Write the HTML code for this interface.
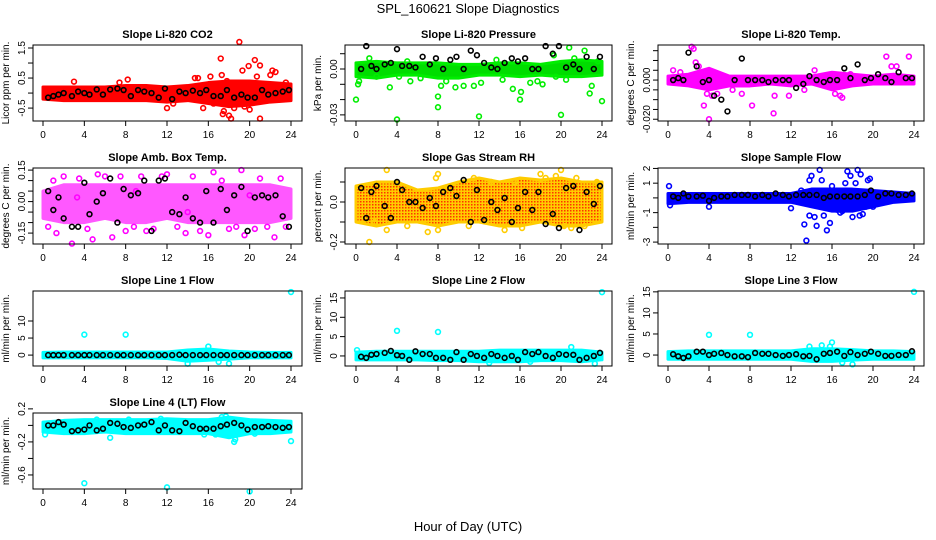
<!DOCTYPE html>
<html><head><meta charset="utf-8"><title>SPL_160621 Slope Diagnostics</title>
<style>
html,body{margin:0;padding:0;background:#fff;}
svg{display:block;font-family:"Liberation Sans",sans-serif;}
</style></head>
<body>
<svg id="chart" width="936" height="540" viewBox="0 0 936 540" xmlns="http://www.w3.org/2000/svg">
<defs>
<pattern id="rhpat" width="3" height="3" patternUnits="userSpaceOnUse"><rect width="3" height="3" fill="#ffcc00"/><rect width="1.5" height="1.5" fill="#ff3300"/></pattern>
</defs>
<text x="468" y="13" font-size="13" text-anchor="middle">SPL_160621  Slope Diagnostics</text>
<text x="468" y="531" font-size="13" text-anchor="middle">Hour of Day (UTC)</text>
</svg>
<script>
// shared x data
const bandHours=[0,2,4,6,8,10,12,14,16,18,20,22,24];
const blackHours=[0.5,1,1.5,2,2.8,3.4,4,4.5,5.2,5.8,6.5,7.2,7.8,8.5,9.2,9.8,10.5,11.2,11.8,12.5,13.2,13.8,14.5,15.2,15.8,16.5,17.2,17.8,18.5,19.2,19.8,20.5,21.2,21.8,22.5,23.2,23.8];
const xTicks=[0,4,8,12,16,20,24];
const xTickLabels=["0","4","8","12","16","20","24"];

// Panel 1: CO2
const co2Lo=[-0.2,-0.25,-0.25,-0.25,-0.25,-0.25,-0.3,-0.25,-0.35,-0.45,-0.4,-0.3,-0.25];
const co2Hi=[0.2,0.2,0.2,0.2,0.25,0.25,0.2,0.25,0.35,0.4,0.4,0.35,0.3];
const co2OutX=[14.7,15,15.5,16.2,17.2,17.3,17.5,17.4,18,18.2,19,19.3,19.9,20.5,21,21,20.7,20,19.5,22.2,22.5,22,12,23.5,17.8,18.5,16.5,12.6,7.4,8.2,3];
const co2OutY=[0.5,0.5,-0.5,0.55,1.15,0.6,-0.6,-0.7,-0.75,-0.85,1.7,0.75,0.9,1.1,0.92,-0.85,0.55,-0.55,-0.45,0.75,0.7,0.6,-0.5,0.35,0.4,-0.5,-0.35,-0.35,0.35,0.45,0.38];
const co2Black=[-0.15,-0.1,-0.05,0,-0.1,0.05,0,-0.05,0.12,-0.05,0.12,0.15,0.1,-0.1,0.1,0.05,0,-0.15,0.15,-0.2,0.05,0,0.08,0,0.1,-0.1,-0.1,0.1,-0.15,-0.05,-0.15,-0.15,0.1,-0.05,0,0.05,0.1];
const co2Ticks=[-0.5,0,0.5,1,1.5];
const co2TickLabels=["-0.5","","0.5","","1.5"];

// Panel 2: Pressure
const prLo=[-0.005,-0.006,-0.004,-0.004,-0.006,-0.006,-0.004,-0.004,-0.005,-0.004,-0.005,-0.005,-0.004];
const prHi=[0.004,0.005,0.004,0.004,0.004,0.003,0.003,0.004,0.004,0.003,0.005,0.006,0.005];
const prOutX=[0,0.2,0.3,1.3,2,3.3,4,4.2,5,5.3,6.3,8,8,8.3,8.8,9.7,10.5,11.5,12,12.2,13.7,14.3,15.3,16,16.1,17,17.7,18.2,19.3,19.5,20,20.5,20.8,21.3,22.3,22.8,23,23.6,24];
const prOutY=[-0.02,-0.01,-0.008,0.007,-0.005,-0.012,-0.033,-0.005,0.005,-0.008,-0.006,-0.018,-0.025,-0.011,-0.008,-0.012,-0.011,-0.011,-0.031,-0.009,0.006,-0.007,-0.013,-0.02,-0.015,-0.009,-0.008,-0.01,0.009,-0.005,-0.03,-0.007,0.014,0.007,0.012,-0.016,-0.011,0.005,-0.021];
const prBlack=[0,0.015,0.002,0,0.003,0.004,0.013,0.002,0.002,0.001,0.008,0.003,0.007,0,0.006,0.008,0,0.012,0.009,0.004,0.001,0,0.004,0.007,0.005,0.007,0,0,0.015,0.01,0.015,0.001,0.003,0,0.008,0,0.008];
const prTicks=[-0.03,-0.02,-0.01,0,0.01];
const prTickLabels=["-0.03","","","0.00",""];

// Panel 3: Li-820 Temp
const tLo=[-0.002,-0.003,-0.005,-0.003,-0.003,-0.002,-0.003,-0.002,-0.005,-0.003,-0.002,-0.002,-0.002];
const tHi=[0.002,0.003,0.006,0.002,0.002,0.002,0.002,0.002,0.004,0.003,0.002,0.003,0.002];
const tOutX=[0.5,1.2,2.3,2.5,2.7,3,3.5,3.8,4,4.3,4.8,6.3,7.2,8.2,10.3,10.4,11.8,13.3,14.3,16.3,16.8,17,17.8,21.3,21.8,22.3,23.5];
const tOutY=[0.005,0.004,0.017,0.016,0.009,0.007,-0.013,-0.007,-0.02,-0.008,-0.007,-0.005,-0.007,-0.013,-0.017,-0.008,-0.008,-0.005,0.005,-0.007,-0.008,-0.009,0.003,0.012,0.007,0.007,0.012];
const tBlack=[0,0.001,0,0.014,0.007,-0.001,0,-0.008,-0.01,-0.016,0,0.011,0,0,0,-0.001,0,0,0,-0.004,-0.002,0.002,0,-0.001,0,0,0.006,0.001,0.008,0,0.001,0.003,0.001,-0.001,0.004,0.001,0.001];
const tTicks=[-0.02,-0.015,-0.01,-0.005,0,0.005,0.01,0.015];
const tTickLabels=["-0.020","","","","0.000","","",""];

// Panel 4: Amb. Box Temp
const abLo=[-0.08,-0.1,-0.1,-0.08,-0.1,-0.1,-0.08,-0.1,-0.1,-0.1,-0.1,-0.1,-0.08];
const abHi=[0.05,0.08,0.08,0.08,0.08,0.08,0.08,0.08,0.08,0.08,0.08,0.08,0.06];
const abOutX=[0.5,1,1.3,2,2.8,3.5,4.3,4.8,5.3,6,6.7,7.5,8,8.8,9.5,10,10.7,11.5,12,13,13.8,14.5,15.2,16,16.5,17.3,18,18.7,19.2,19.5,20.5,21,21.7,22.4,23,23.5,3.3,9,14,20];
const abOutY=[-0.12,0.1,-0.15,0.12,-0.2,0.11,-0.13,-0.18,0.13,0.12,-0.17,0.12,-0.14,-0.12,0.12,-0.14,-0.13,0.12,0.13,-0.12,-0.15,0.12,-0.14,-0.16,0.14,0.1,-0.13,-0.12,0.15,-0.16,-0.13,0.11,-0.12,-0.17,0.11,-0.12,0.02,0.05,-0.05,0.03];
const abBlack=[0.05,-0.04,0.02,-0.08,-0.12,-0.12,0.09,-0.06,0,0.04,0.11,-0.1,0.06,0.03,0.04,0.1,-0.14,0.1,0.11,-0.05,-0.06,0.02,-0.08,-0.1,0.05,-0.1,0.06,-0.04,0.03,0.07,-0.14,0.02,0.03,0.02,0.03,-0.07,-0.12];
const abTicks=[-0.15,-0.1,-0.05,0,0.05,0.1,0.15];
const abTickLabels=["-0.15","","","0.00","","","0.15"];

// Panel 5: Gas Stream RH
const rhLo=[-0.1,-0.12,-0.1,-0.1,-0.12,-0.1,-0.1,-0.12,-0.12,-0.1,-0.12,-0.12,-0.1];
const rhHi=[0.08,0.1,0.1,0.06,0.07,0.1,0.12,0.1,0.12,0.11,0.12,0.1,0.1];
const rhOutX=[1.3,1.8,3,3,5,7,7.8,8,8,11,11.5,13.2,14.5,15.5,16.2,18,18.5,19.5,20,20.3,21,21.5,22.3,23.5];
const rhOutY=[-0.2,-0.1,0.16,-0.14,-0.12,-0.15,0.12,0.14,-0.14,-0.12,0.12,0.1,-0.14,0.1,-0.13,0.14,0.12,0.13,0.16,-0.12,-0.13,0.12,-0.12,0.1];
const rhBlack=[0.07,-0.08,0.05,0.08,-0.02,-0.08,0.1,0.06,0,0,-0.03,0.02,-0.02,0.05,0.07,0.03,0.11,-0.1,0.06,-0.09,0,-0.04,0.02,-0.1,-0.03,0.05,-0.04,0.05,-0.11,-0.06,-0.13,0.07,0.08,-0.14,0.05,-0.01,0.08];
const rhTicks=[-0.2,-0.1,0,0.1];
const rhTickLabels=["-0.2","","0.0",""];

// Panel 6: Sample Flow
const sfLo=[-0.4,-0.3,-0.3,-0.3,-0.3,-0.3,-0.3,-0.6,-0.9,-0.9,-0.6,-0.3,-0.2];
const sfHi=[0.3,0.3,0.3,0.3,0.3,0.3,0.3,0.6,0.6,0.6,0.5,0.4,0.3];
const sfOutX=[0.1,0.2,4,12,13.3,13.5,13.8,14,14.3,14.5,14.8,15,15.2,15.5,15.8,16,16.5,17.3,17.5,17.8,18,18.3,18.5,18.7,18.8,19,19.5,19.7,19.3,20,16.8,17,13,13.8];
const sfOutY=[0.8,-0.5,-0.6,-0.7,-1.8,-2.9,1.2,1.5,-1.3,-1.9,1.9,1.2,-1.2,-2.2,-1.7,0.8,-0.8,1,1.8,1.5,-1.3,1,1.9,-1.2,1.6,-1.1,1.2,1.3,-0.6,-0.6,-1,-0.9,0.5,-1.2];
const sfBlack=[0.1,0,0.3,0.1,0.1,0.15,-0.2,0,0.1,0.1,0.2,0.2,0.2,0.1,0.2,0.1,0.3,0.2,0.1,0.2,0.2,0.2,0.2,0,0.1,0.1,0.1,0.1,0.1,0.2,0.5,0.1,0.3,0.3,0.2,0.2,0.3];
const sfTicks=[-3,-2,-1,0,1,2];
const sfTickLabels=["-3","","-1","","1","2"];

// Panel 7: Line 1 Flow
const l1Lo=[-0.8,-0.8,-0.8,-0.8,-0.8,-0.8,-1,-1.8,-1.5,-1.2,-0.8,-0.8,-0.8];
const l1Hi=[0.8,0.9,0.9,0.9,0.9,0.9,0.9,1.5,1.8,1.2,0.9,0.8,0.8];
const l1OutX=[4,8,24,16,17,18,14];
const l1OutY=[6,6,18.5,2.5,-2,-2.5,-2.5];
const l1Black=[0,0,0,0,0,0,0,0,0,0,0,0,0,0,0,0,0,0,0,0,0.1,0,0,0,0,0,0,0,0,0,0,0,0,0,0,0,0];
const l1Ticks=[0,5,10];
const l1TickLabels=["0","5","10"];

// Panel 8: Line 2 Flow
const l2Lo=[-1,-1,-1,-1,-1.2,-1.2,-1.5,-1.5,-1.5,-1.2,-1.2,-1.5,-1];
const l2Hi=[1,1.2,1.2,1.2,1.2,1.2,1.2,1.5,1.5,1.5,1.5,1.5,1];
const l2OutX=[0.1,4,8,21,23.3,24,17,13];
const l2OutY=[1.5,6.5,6.2,2.3,-2,16.5,-1.5,-1.8];
const l2Black=[-0.2,-0.5,0.3,0.5,0.8,1.3,0.2,0,-1,1.2,0.5,0.5,-0.5,-0.5,-1,1,-1,0.5,0,-0.5,0.5,0,-0.5,0,-1,1,0.5,1,0,-0.5,0.5,0.3,0.3,-1,-0.5,0,0.8];
const l2Ticks=[0,5,10,15];
const l2TickLabels=["0","5","10","15"];

// Panel 9: Line 3 Flow
const l3Lo=[-1,-1,-1,-1,-1,-1,-1,-1.5,-1.5,-1.2,-1,-1,-1];
const l3Hi=[0.8,1,1,1,1,1,1,1.5,1.5,1.3,1,1,0.8];
const l3OutX=[4,8,13.8,15,15.8,16,17,18,24];
const l3OutY=[4.8,4.8,2,2.3,2,3,-1.8,-2.2,15];
const l3Black=[0.2,-0.3,-0.7,-0.3,0.8,0.8,0,0.3,0.5,0,-0.3,-0.3,-0.5,0.5,0.3,0.3,0,-0.2,0,0.2,-0.3,-0.2,-1,0.3,0.5,0.8,-0.2,0.7,0,0.3,0.8,0.3,-0.2,-0.2,0,0,0.9];
const l3Ticks=[0,5,10,15];
const l3TickLabels=["0","5","10","15"];

// Panel 10: Line 4 (LT) Flow
const l4Lo=[-0.08,-0.1,-0.1,-0.08,-0.1,-0.1,-0.1,-0.1,-0.1,-0.15,-0.1,-0.1,-0.08];
const l4Hi=[0.04,0.06,0.07,0.07,0.07,0.07,0.08,0.07,0.07,0.1,0.07,0.06,0.05];
const l4OutX=[0.2,4,5.2,6.5,8.3,11.4,12,15.6,16.7,17.3,17.7,18.5,18.6,20,20.5,24];
const l4OutY=[-0.11,-0.7,0.07,-0.15,0.07,0.08,-0.75,-0.11,-0.11,0.1,0.11,-0.2,-0.17,-0.8,-0.1,-0.19];
const l4Black=[0,0,0.04,0.01,-0.07,-0.06,-0.05,0,-0.06,-0.04,0.03,0.02,-0.02,-0.03,0,0.01,0.04,-0.06,0,-0.06,-0.07,0.03,-0.01,-0.04,-0.04,-0.04,-0.01,0.01,0.03,0,-0.05,-0.02,-0.02,-0.01,-0.02,-0.03,-0.02];
const l4Ticks=[-0.6,-0.4,-0.2,0,0.2];
const l4TickLabels=["-0.6","","-0.2","","0.2"];

const NS="http://www.w3.org/2000/svg";
const svg=document.getElementById('chart');
const cols=[{L:33,R:302,x0:43,x24:291},{L:345,R:612,x0:356,x24:602},{L:658,R:924,x0:668,x24:914}];
const rows=[{T:45,B:121},{T:168,B:244},{T:291,B:366},{T:413,B:489}];

const panels=[
 {id:'co2',title:'Slope Li-820 CO2',ylab:'Licor ppm per min.',c:0,r:0,ymin:-0.93,ymax:1.6,color:'#ff0000',fill:'#ff0000',op:1,lo:co2Lo,hi:co2Hi,ox:co2OutX,oy:co2OutY,bk:co2Black,ticks:co2Ticks,tl:co2TickLabels},
 {id:'pressure',title:'Slope Li-820 Pressure',ylab:'kPa per min.',c:1,r:0,ymin:-0.034,ymax:0.0157,color:'#00ee00',fill:'#00dd00',op:1,lo:prLo,hi:prHi,ox:prOutX,oy:prOutY,bk:prBlack,ticks:prTicks,tl:prTickLabels},
 {id:'li820-temp',title:'Slope Li-820 Temp.',ylab:'degrees C per min.',c:2,r:0,ymin:-0.0209,ymax:0.0179,color:'#ff00ff',fill:'#ff00ff',op:1,lo:tLo,hi:tHi,ox:tOutX,oy:tOutY,bk:tBlack,ticks:tTicks,tl:tTickLabels},
 {id:'amb-box-temp',title:'Slope Amb. Box Temp.',ylab:'degrees C per min.',c:0,r:1,ymin:-0.202,ymax:0.16,color:'#ff00ff',fill:'#ff00ff',op:0.65,lo:abLo,hi:abHi,ox:abOutX,oy:abOutY,bk:abBlack,ticks:abTicks,tl:abTickLabels},
 {id:'gas-stream-rh',title:'Slope Gas Stream RH',ylab:'percent per min.',c:1,r:1,ymin:-0.21,ymax:0.17,color:'#ffcc00',fill:'url(#rhpat)',op:1,lo:rhLo,hi:rhHi,ox:rhOutX,oy:rhOutY,bk:rhBlack,ticks:rhTicks,tl:rhTickLabels},
 {id:'sample-flow',title:'Slope Sample Flow',ylab:'ml/min per min.',c:2,r:1,ymin:-3.13,ymax:2.03,color:'#0000ff',fill:'#0000ff',op:1,lo:sfLo,hi:sfHi,ox:sfOutX,oy:sfOutY,bk:sfBlack,ticks:sfTicks,tl:sfTickLabels},
 {id:'line1-flow',title:'Slope Line 1 Flow',ylab:'ml/min per min.',c:0,r:2,ymin:-3.2,ymax:18.8,color:'#00ffff',fill:'#00ffff',op:1,lo:l1Lo,hi:l1Hi,ox:l1OutX,oy:l1OutY,bk:l1Black,ticks:l1Ticks,tl:l1TickLabels},
 {id:'line2-flow',title:'Slope Line 2 Flow',ylab:'ml/min per min.',c:1,r:2,ymin:-2.6,ymax:16.8,color:'#00ffff',fill:'#00ffff',op:1,lo:l2Lo,hi:l2Hi,ox:l2OutX,oy:l2OutY,bk:l2Black,ticks:l2Ticks,tl:l2TickLabels},
 {id:'line3-flow',title:'Slope Line 3 Flow',ylab:'ml/min per min.',c:2,r:2,ymin:-2.6,ymax:15.2,color:'#00ffff',fill:'#00ffff',op:1,lo:l3Lo,hi:l3Hi,ox:l3OutX,oy:l3OutY,bk:l3Black,ticks:l3Ticks,tl:l3TickLabels},
 {id:'line4-flow',title:'Slope Line 4 (LT) Flow',ylab:'ml/min per min.',c:0,r:3,ymin:-0.77,ymax:0.15,color:'#00ffff',fill:'#00ffff',op:1,lo:l4Lo,hi:l4Hi,ox:l4OutX,oy:l4OutY,bk:l4Black,ticks:l4Ticks,tl:l4TickLabels}
];

function mk(tag,attrs,parent){const e=document.createElementNS(NS,tag);for(const k in attrs)e.setAttribute(k,attrs[k]);parent.appendChild(e);return e;}

panels.forEach(p=>{
  const col=cols[p.c],row=rows[p.r];
  const xs=h=>col.x0+(col.x24-col.x0)*h/24;
  const ys=v=>row.B-(v-p.ymin)/(p.ymax-p.ymin)*(row.B-row.T);
  const g=mk('g',{},svg);
  
  
  const t=mk('text',{x:(col.L+col.R)/2,y:row.T-7,'font-size':'11','font-weight':'bold','text-anchor':'middle'},g);
  t.textContent=p.title;
  
  
  const yl=mk('text',{x:0,y:0,'font-size':'10','text-anchor':'middle',transform:`translate(${col.L-24},${(row.T+row.B)/2}) rotate(-90)`},g);
  yl.textContent=p.ylab;
  
  
  let pts=p.lo.map((v,i)=>xs(bandHours[i])+','+ys(p.hi[i]));
  for(let i=p.lo.length-1;i>=0;i--)pts.push(xs(bandHours[i])+','+ys(p.lo[i]));
  const band=mk('polygon',{points:pts.join(' '),fill:p.fill,stroke:p.color,'stroke-width':'3','stroke-linejoin':'round',opacity:p.op},g);
  
  
  p.ox.forEach((x,i)=>{
    const c=mk('circle',{cx:xs(x),cy:ys(p.oy[i]),r:2.4,fill:'none',stroke:p.color,'stroke-width':'1.6'},g);
    
    
  });
  p.bk.forEach((v,i)=>{
    const c=mk('circle',{cx:xs(blackHours[i]),cy:ys(v),r:2.4,fill:'none',stroke:'#000','stroke-width':'1.6'},g);
    
    
  });
  const box=mk('rect',{x:col.L,y:row.T,width:col.R-col.L,height:row.B-row.T,fill:'none',stroke:'#000','stroke-width':'1'},g);
  
  
  xTicks.forEach((h,i)=>{
    mk('line',{x1:xs(h),x2:xs(h),y1:row.B,y2:row.B+5,stroke:'#000'},g);
    const tx=mk('text',{x:xs(h),y:row.B+17,'font-size':'10','text-anchor':'middle'},g);
    tx.textContent=xTickLabels[i];
    
    
  });
  p.ticks.forEach((v,i)=>{
    const y=ys(v);
    mk('line',{x1:col.L-5,x2:col.L,y1:y,y2:y,stroke:'#000'},g);
    if(p.tl[i]){
      const ty=mk('text',{x:0,y:0,'font-size':'10','text-anchor':'middle',transform:`translate(${col.L-8},${y}) rotate(-90)`},g);
      ty.textContent=p.tl[i];
      
      
    }
  });
});
</script>
</body></html>
